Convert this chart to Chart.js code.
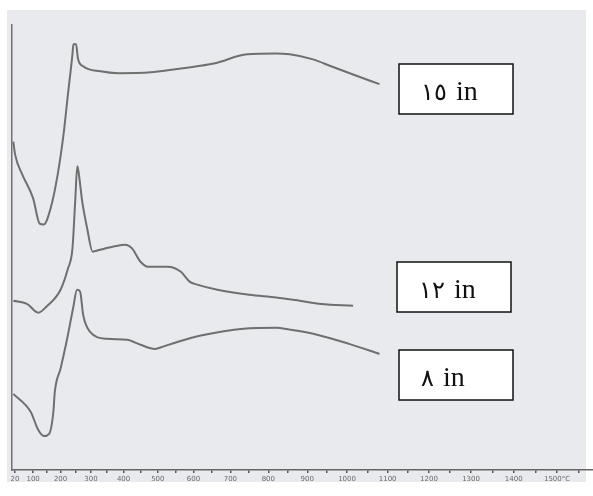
<!DOCTYPE html>
<html>
<head>
<meta charset="utf-8">
<script src="https://cdn.jsdelivr.net/npm/chart.js@4/dist/chart.umd.min.js"></script>
<style>
  html, body { margin: 0; padding: 0; background: #fff; }
  #wrap { width: 593px; height: 496px; }
</style>
</head>
<body>
<div id="wrap"><canvas id="dta"></canvas></div>
<script>
// temperature (°C) and trace deflection for each sample
const temps15 = [10, 20, 55, 100, 125, 140, 165, 190, 210, 225, 240, 243, 252, 258, 275, 330, 385, 480, 545, 610, 655, 745, 820, 855, 915, 960, 1015, 1080];
const vals15  = [71.6, 68.8, 64.4, 59.2, 53.7, 53.5, 57.0, 64.4, 73.1, 81.9, 90.6, 92.8, 92.8, 89.7, 88.0, 86.9, 86.5, 86.7, 87.3, 88.0, 88.6, 90.6, 90.8, 90.6, 89.5, 88.0, 86.2, 84.1];

const temps12 = [10, 75, 120, 150, 200, 225, 240, 249, 256, 260, 272, 288, 305, 328, 370, 405, 425, 450, 472, 528, 565, 590, 610, 665, 750, 820, 880, 935, 1015];
const vals12  = [36.9, 36.2, 34.3, 35.6, 39.3, 43.9, 48.3, 58.5, 66.2, 65.0, 58.5, 52.6, 47.6, 48.0, 48.7, 49.1, 48.3, 45.4, 44.3, 44.3, 43.2, 41.0, 40.4, 39.3, 38.2, 37.6, 36.9, 36.2, 35.8];

const temps8 = [10, 90, 120, 140, 160, 175, 180, 200, 220, 242, 255, 265, 275, 297, 350, 410, 450, 492, 515, 555, 620, 735, 820, 855, 925, 1005, 1080];
const vals8  = [16.6, 12.7, 8.7, 7.4, 7.9, 12.7, 17.0, 22.1, 27.9, 35.2, 39.3, 38.9, 33.8, 30.1, 28.6, 28.4, 27.3, 26.4, 26.9, 27.9, 29.3, 30.8, 31.0, 30.6, 29.5, 27.5, 25.3];

const seriesNames = ['١٥ in', '١٢ in', '٨ in'];

// temperature axis
const majorTicks = [20, 100, 200, 300, 400, 500, 600, 700, 800, 900, 1000, 1100, 1200, 1300, 1400, 1500];
const majorLabels = ['20', '100', '200', '300', '400', '500', '600', '700', '800', '900', '1000', '1100', '1200', '1300', '1400', '1500°C'];
const minorTicks = [150, 250, 350, 450, 550, 650, 750, 850, 950, 1050, 1150, 1250, 1350, 1450, 1550];

const SERIF = '"Liberation Serif", "Times New Roman", Times, "DejaVu Serif", serif';

// the recorder paper spaces temperature as T^1.2
const EXP = 1.2;
class PowerScale extends Chart.LinearScale {
  getPixelForValue(value) {
    if (value === null || isNaN(value)) return NaN;
    const lo = Math.pow(this.min, EXP), hi = Math.pow(this.max, EXP);
    return this.getPixelForDecimal((Math.pow(Math.max(value, 0), EXP) - lo) / (hi - lo));
  }
  getValueForPixel(pixel) {
    const lo = Math.pow(this.min, EXP), hi = Math.pow(this.max, EXP);
    const d = this.getDecimalForPixel(pixel);
    return Math.pow(Math.max(lo + d * (hi - lo), 0), 1 / EXP);
  }
}
PowerScale.id = 'power';
PowerScale.defaults = {};
Chart.register(PowerScale);

const toPoints = (xs, ys) => xs.map((x, i) => ({ x: x, y: ys[i] }));

const paper = {
  id: 'paper',
  beforeDraw(chart) {
    const c = chart.ctx;
    c.save();
    c.fillStyle = '#ffffff';
    c.fillRect(0, 0, chart.width, chart.height);
    c.fillStyle = '#e8eaee';
    c.fillRect(7, 10, 579, 472);
    c.restore();
  }
};

// boxed sample labels: Arabic numeral, then the unit in a serif face
const boxes = [
  { text: seriesNames[0], x: 399, y: 64 },
  { text: seriesNames[1], x: 397, y: 262 },
  { text: seriesNames[2], x: 399, y: 350 }
];
const tags = {
  id: 'tags',
  afterDraw(chart) {
    const c = chart.ctx;
    c.save();
    boxes.forEach(b => {
      c.fillStyle = '#ffffff';
      c.fillRect(b.x, b.y, 114, 50);
      c.strokeStyle = '#111111';
      c.lineWidth = 1.5;
      c.strokeRect(b.x, b.y, 114, 50);
      const parts = b.text.split(' ');
      c.fillStyle = '#111111';
      c.textBaseline = 'alphabetic';
      c.font = '24px ' + SERIF;
      c.fillText(parts[0], b.x + 22, b.y + 36);
      const w = c.measureText(parts[0]).width;
      c.font = '28px ' + SERIF;
      c.fillText(parts[1], b.x + 22 + w + 9, b.y + 36);
    });
    c.restore();
  }
};

const lineStyle = {
  borderColor: '#6f6f6f',
  borderWidth: 2,
  pointRadius: 0,
  fill: false,
  cubicInterpolationMode: 'monotone'
};

function draw() {
  new Chart(document.getElementById('dta'), {
    type: 'line',
    data: {
      datasets: [
        Object.assign({ label: seriesNames[0], data: toPoints(temps15, vals15) }, lineStyle),
        Object.assign({ label: seriesNames[1], data: toPoints(temps12, vals12) }, lineStyle),
        Object.assign({ label: seriesNames[2], data: toPoints(temps8, vals8) }, lineStyle)
      ]
    },
    options: {
      responsive: true,
      maintainAspectRatio: false,
      animation: false,
      layout: { padding: { left: 12, right: 0, top: 25, bottom: 0 } },
      plugins: { legend: { display: false }, tooltip: { enabled: false } },
      scales: {
        x: {
          type: 'power',
          min: 0,
          max: 1582,
          afterBuildTicks(scale) {
            scale.ticks = majorTicks.concat(minorTicks).sort((a, b) => a - b).map(v => ({ value: v }));
          },
          afterFit(scale) { scale.height = 26; },
          ticks: {
            autoSkip: false,
            maxRotation: 0,
            padding: 2,
            color: '#6a6a6a',
            font: { family: 'DejaVu Sans', size: 7 },
            callback(value) {
              const i = majorTicks.indexOf(value);
              return i >= 0 ? majorLabels[i] : '';
            }
          },
          grid: { drawOnChartArea: false, tickLength: 3, color: '#555555', lineWidth: 1.5 },
          border: { color: '#666666', width: 1.5 }
        },
        y: {
          min: 0,
          max: 97,
          afterFit(scale) { scale.width = 0; },
          ticks: { display: false },
          grid: { drawOnChartArea: false, drawTicks: false },
          border: { color: '#707070', width: 1.5 }
        }
      }
    },
    plugins: [paper, tags]
  });
}

// make sure the serif face is ready before the labels are painted
document.fonts.load('28px "Liberation Serif"').then(draw, draw);
</script>
</body>
</html>
